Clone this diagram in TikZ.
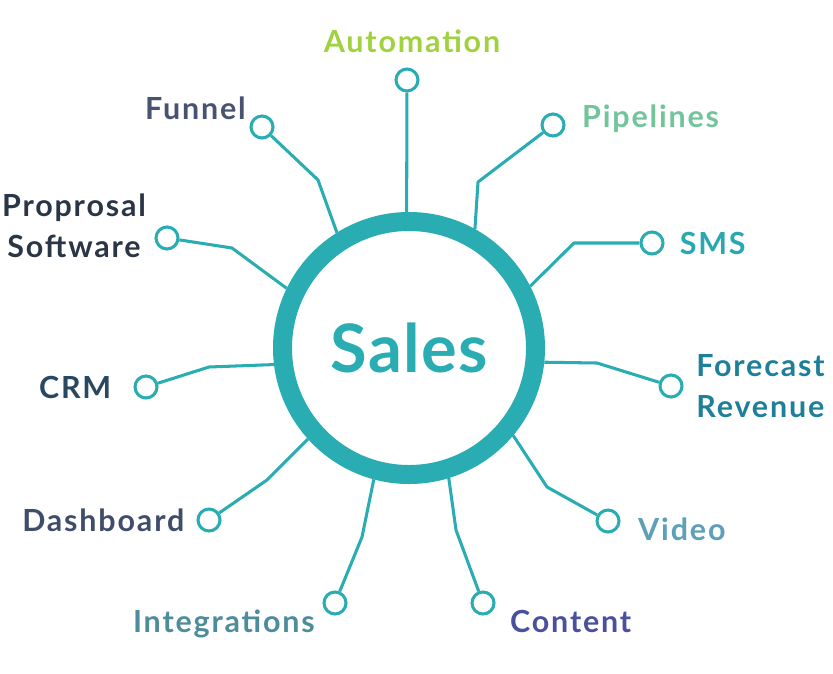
\documentclass[tikz,border=0pt]{standalone}
\usepackage{fontspec}
\setmainfont{Lato}[LetterSpace=6]
\newfontfamily\hubfont{Lato}[LetterSpace=2]
\usepackage{tikz}
\usetikzlibrary{positioning}
\usepackage{xcolor}
\definecolor{salesteal}{HTML}{2AACB3}
\definecolor{autogreen}{HTML}{A0D23F}
\definecolor{pipegreen}{HTML}{72C49A}
\definecolor{smsteal}{HTML}{2AA8B0}
\definecolor{fcstblue}{HTML}{1F7F9B}
\definecolor{videoblue}{HTML}{5E9FBA}
\definecolor{contentindigo}{HTML}{4A509E}
\definecolor{integteal}{HTML}{4D8C9B}
\definecolor{dashslate}{HTML}{3F4D6A}
\definecolor{crmnavy}{HTML}{284760}
\definecolor{propdark}{HTML}{2A3546}
\definecolor{funnelslate}{HTML}{485371}

\begin{document}
\begin{tikzpicture}[
    x=0.03cm, y=-0.03cm,
    every node/.style={inner sep=0pt, font=\bfseries\fontsize{26}{35}\selectfont},
    hub/.style={circle, draw=salesteal, line width=0.57cm, minimum size=7.59cm, text=salesteal, font=\hubfont\bfseries\fontsize{57}{60}\selectfont},
    dot/.style={circle, draw=salesteal, line width=2.6pt, fill=white, minimum size=0.66cm},
    link/.style={draw=salesteal, line width=2.6pt, line join=round}
]
    \useasboundingbox (0,0) rectangle (833,674);

    \node[hub] (sales) at (409,348) {Sales};

    % end points
    \node[dot] (auto) at (407,80) {};
    \node[dot] (pipe) at (553,125) {};
    \node[dot] (sms) at (652,243) {};
    \node[dot] (fcst) at (671,386) {};
    \node[dot] (video) at (608,521) {};
    \node[dot] (content) at (483,603) {};
    \node[dot] (integ) at (335,603) {};
    \node[dot] (dash) at (209,520) {};
    \node[dot] (crm) at (146,387) {};
    \node[dot] (prop) at (167,238) {};
    \node[dot] (funnel) at (262,127) {};

    % connectors
    \draw[link] (sales.91) -- (auto);
    \draw[link] (sales.61) -- (478,182) -- (pipe);
    \draw[link] (sales.27) -- (574,243) -- (sms);
    \draw[link] (sales.-6) -- (597,363) -- (fcst);
    \draw[link] (sales.-40.5) -- (547,487) -- (video);
    \draw[link] (sales.-73) -- (456,530) -- (content);
    \draw[link] (sales.-105) -- (362,537) -- (integ);
    \draw[link] (sales.-138) -- (267,480) -- (dash);
    \draw[link] (sales.187.5) -- (209,367) -- (crm);
    \draw[link] (sales.154.4) -- (232,248) -- (prop);
    \draw[link] (sales.122.3) -- (318,180) -- (funnel);

    % labels
    \node[text=autogreen, anchor=base] (autotxt) at (412,53) {Automation};
    \node[text=pipegreen, anchor=base west] (pipetxt) at (582,128) {Pipelines};
    \node[text=smsteal, right=0.45cm of sms] (smstxt) {SMS};
    \node[text=fcstblue, right=0.38cm of fcst, align=left] (fcsttxt) {Forecast\\Revenue};
    \node[text=videoblue, anchor=base west] (videotxt) at (638,540) {Video};
    \node[text=contentindigo, anchor=base west] (contenttxt) at (510,632) {Content};
    \node[text=integteal, anchor=base east] (integtxt) at (315,632) {Integrations};
    \node[text=dashslate, left=0.36cm of dash] (dashtxt) {Dashboard};
    \node[text=crmnavy, left=0.66cm of crm] (crmtxt) {CRM};
    \node[text=propdark, align=center] (proptxt) at (74,226) {Proprosal\\Software};
    \node[text=funnelslate, anchor=base east] (funneltxt) at (246,120) {Funnel};
\end{tikzpicture}
\end{document}
